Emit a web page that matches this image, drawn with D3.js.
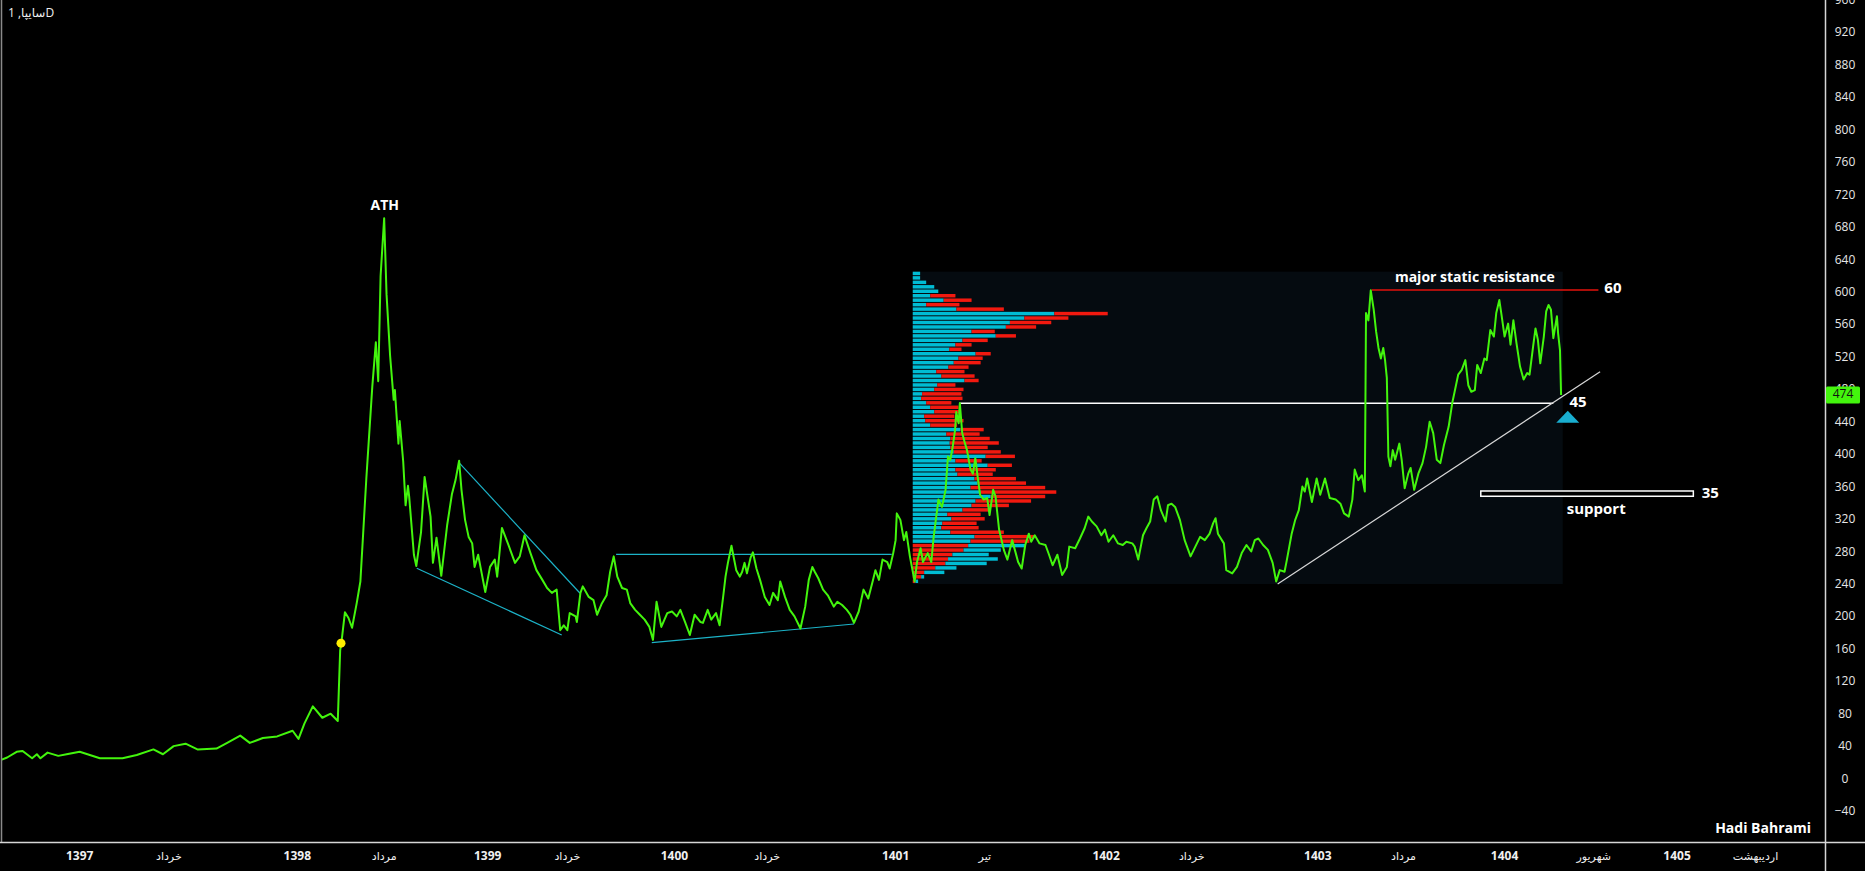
<!DOCTYPE html>
<html>
<head>
<meta charset="utf-8">
<script src="https://cdn.jsdelivr.net/npm/d3@7"></script>
<style>
html, body { margin: 0; background: #000; overflow: hidden; }
svg { display: block; }
text { font-family: "Open Sans", Roboto, "DejaVu Sans", sans-serif; }
</style>
</head>
<body>
<svg id="main"></svg>
<script>
// daily close, [bar index, price]
var priceSeries = [[1,24],[6,27],[14,34],[19,35],[27,26],[31,31],[34,26],[40,33],[49,29],[56,31],[67,34],[84,26],[103,26],[115,30],[129,37],[137,31],[146,41],[156,44],[166,37],[182,38],[191,45],[202,54],[210,45],[221,51],[233,53],[246,60],[251,50],[256,69],[263,90],[271,76],[278,81],[284,72],[286,159],[287,168],[290,206],[293,199],[296,187],[300,218],[303,244],[308,371],[313,484],[316,539],[318,491],[320,621],[323,692],[325,598],[328,522],[331,468],[332,480],[335,414],[336,442],[339,392],[341,338],[343,362],[344,349],[348,277],[350,263],[354,305],[357,373],[362,324],[364,267],[367,298],[371,251],[376,314],[380,352],[383,369],[386,393],[388,357],[391,320],[394,299],[397,291],[399,262],[402,277],[405,254],[408,231],[412,262],[416,271],[418,250],[422,310],[427,291],[433,267],[437,275],[441,301],[446,279],[451,258],[456,246],[460,236],[464,230],[468,234],[471,184],[474,190],[477,184],[479,205],[484,201],[485,194],[488,230],[490,238],[495,225],[499,221],[502,203],[506,217],[510,227],[513,256],[516,275],[519,250],[523,236],[527,234],[530,217],[534,209],[538,203],[542,197],[546,188],[549,172],[552,219],[556,188],[561,205],[565,207],[569,201],[572,209],[576,194],[580,178],[584,203],[589,194],[591,193],[595,209],[598,197],[602,205],[605,190],[608,225],[610,250],[612,267],[615,288],[617,273],[619,258],[622,250],[624,256],[626,267],[628,254],[631,273],[633,280],[636,260],[639,246],[643,225],[647,215],[650,230],[654,221],[656,244],[660,225],[664,209],[668,201],[673,186],[677,213],[680,246],[683,262],[685,256],[688,248],[692,234],[696,227],[701,213],[704,219],[708,215],[712,209],[715,203],[718,193],[722,207],[726,234],[730,223],[734,246],[736,258],[739,246],[742,271],[746,268],[748,260],[751,279],[753,295],[754,328],[757,320],[760,295],[762,305],[765,275],[769,244],[771,268],[774,285],[776,268],[780,279],[783,268],[785,299],[789,345],[792,336],[795,357],[797,398],[799,394],[801,410],[803,431],[804,453],[806,439],[807,464],[809,427],[811,416],[813,406],[816,382],[818,377],[820,396],[822,373],[824,351],[827,345],[830,347],[832,326],[835,357],[837,349],[840,308],[844,283],[847,271],[851,295],[854,279],[856,268],[859,260],[862,289],[865,303],[867,293],[870,301],[874,291],[879,289],[882,277],[885,264],[889,277],[893,252],[897,262],[899,287],[904,285],[908,297],[912,310],[915,324],[918,318],[922,312],[926,301],[929,308],[932,293],[936,301],[940,291],[944,289],[947,293],[952,291],[954,287],[957,271],[961,301],[964,310],[967,318],[970,345],[973,349],[976,332],[980,318],[982,338],[985,340],[988,336],[992,320],[996,295],[1001,275],[1005,287],[1009,299],[1013,295],[1017,303],[1020,316],[1022,322],[1024,303],[1029,291],[1031,258],[1036,254],[1040,262],[1044,279],[1048,289],[1052,281],[1055,295],[1058,297],[1062,289],[1066,283],[1070,267],[1073,244],[1076,258],[1080,256],[1082,271],[1086,303],[1089,320],[1092,332],[1095,361],[1097,355],[1099,371],[1103,342],[1107,371],[1110,351],[1114,371],[1118,347],[1123,345],[1127,340],[1130,328],[1134,324],[1137,345],[1139,382],[1142,369],[1145,375],[1147.5,355],[1148.5,575],[1150.5,566],[1152.5,603],[1155,579],[1157,552],[1159,532],[1161,519],[1163,532],[1164.5,517],[1166,495],[1167.3,398],[1169,386],[1171,406],[1173,394],[1176.5,414],[1178.5,394],[1181,359],[1184,377],[1186,384],[1189,357],[1192.5,377],[1196,390],[1199,410],[1202,441],[1205,427],[1208,394],[1211,390],[1214,412],[1218,435],[1221,464],[1223,478],[1226,499],[1229,505],[1232,517],[1234.5,486],[1237,478],[1240,480],[1242,511],[1245,501],[1248,519],[1250,517],[1253,554],[1256,546],[1258,575],[1260.6,591],[1262.6,571],[1265,546],[1268,562],[1270,536],[1272.4,566],[1275,538],[1278,509],[1281,493],[1284,501],[1286,499],[1289,534],[1291,556],[1293,542],[1295,513],[1298,546],[1300,577],[1302,585],[1304,579],[1306,544],[1309,571],[1310,550],[1311.6,529],[1312.5,474]];

// volume profile rows, top to bottom (up = blue, down = red)
var vpUp = [22,22,40,64,76,52,92,40,130,421,332,289,277,175,247,148,127,109,187,136,122,106,70,85,154,73,64,28,25,40,52,64,34,37,52,142,100,112,110,112,122,217,127,223,127,133,184,193,172,202,232,187,175,148,103,115,88,85,112,184,172,169,111,108,148,123,63,60,9,8];
var vpDown = [0,0,0,0,0,75,83,99,141,159,131,123,90,69,60,75,48,36,45,72,80,60,84,99,42,54,87,117,123,75,84,78,90,114,80,69,99,117,146,111,140,87,78,72,120,105,123,144,222,225,162,165,111,84,99,99,102,111,159,178,175,165,151,118,105,97,67,34,25,8];
var vpDownFirstFrom = 61;
var vpBars = [767.4, 1313.9];
var vpPrice = [240.9, 626];

var priceTicks = [-40,0,40,80,120,160,200,240,280,320,360,400,440,480,520,560,600,640,680,720,760,800,840,880,920,960];
var timeTickBars = [67,142,250,323,410,477,567,645,753,828,930,1002,1108,1180,1265,1340,1410,1476];
var timeTickLabels = ["1397","خرداد","1398","مرداد","1399","خرداد","1400","خرداد","1401","تیر","1402","خرداد","1403","مرداد","1404","شهریور","1405","اردیبهشت"];

// drawn lines: [bar1, price1, bar2, price2]
var cyanLines = [[385.9,390.5,487.7,229.5],[350.4,260.3,472.3,178],[518,277.5,749.7,277.5],[548,168.6,718,191.6]];
var levelLine = [807.2,463.7,1306,463.7];
var trendLine = [1074.2,240.9,1345.3,502.7];
var resistLine = [1153.3,603.4,1343.9,603.4];
var supportBox = [1245,349.1,1423.7,355.6];
var markerDot = [286.7,168];
var markerTri = [1318.1,439.8,454.6];
var lastPrice = 474;

var W = 1865, H = 871, plotR = 1825, plotB = 842;
var green = "#43f50d", cyan = "#1cb3c8";

var s = d3.select("#main").attr("width", W).attr("height", H);
s.append("rect").attr("width", W).attr("height", H).attr("fill", "#000");
s.append("defs").append("clipPath").attr("id", "clip")
  .append("rect").attr("width", plotR).attr("height", plotB);

var x = d3.scaleLinear().domain([0, 1534.4]).range([0, plotR]);
var y = d3.scaleLinear().domain([-77.2, 961]).range([plotB, 0]);

var g = s.append("g").attr("clip-path", "url(#clip)");

// volume profile panel
var px0 = x(vpBars[0]), px1 = x(vpBars[1]);
g.append("rect").attr("x", px0).attr("width", px1 - px0)
  .attr("y", y(vpPrice[1])).attr("height", y(vpPrice[0]) - y(vpPrice[1]))
  .attr("fill", "#050b10");

var rowH = (vpPrice[1] - vpPrice[0]) / vpUp.length;
var totals = vpUp.map(function(v, i) { return v + vpDown[i]; });
var vx = d3.scaleLinear().domain([0, d3.max(totals)]).range([0, 0.3 * (px1 - px0)]);
var rows = g.append("g");
vpUp.forEach(function(u, i) {
  var top = vpPrice[1] - i * rowH;
  var yy = y(top), hh = y(top - rowH) - y(top) - 1;
  var segs = i >= vpDownFirstFrom ? [[vpDown[i], "#f2190f"], [u, "#00bcd4"]] : [[u, "#00bcd4"], [vpDown[i], "#f2190f"]];
  var acc = 0;
  segs.forEach(function(sg) {
    if (sg[0] <= 0) return;
    rows.append("rect").attr("x", px0 + vx(acc)).attr("y", yy)
      .attr("width", vx(sg[0])).attr("height", hh).attr("fill", sg[1]);
    acc += sg[0];
  });
});

function seg(d, col, w) {
  g.append("line").attr("x1", x(d[0])).attr("y1", y(d[1]))
    .attr("x2", x(d[2])).attr("y2", y(d[3]))
    .attr("stroke", col).attr("stroke-width", w);
}
cyanLines.forEach(function(d) { seg(d, cyan, 1.2); });
seg(levelLine, "#ffffff", 1.5);
seg(trendLine, "#d8d8d8", 1.2);
seg(resistLine, "#e3120b", 1.5);

// support box
g.append("rect").attr("x", x(supportBox[0])).attr("y", y(supportBox[3]))
  .attr("width", x(supportBox[2]) - x(supportBox[0]))
  .attr("height", y(supportBox[1]) - y(supportBox[3]))
  .attr("fill", "#000").attr("stroke", "#fff").attr("stroke-width", 1.5);

// price line
var line = d3.line().x(function(d) { return x(d[0]); }).y(function(d) { return y(d[1]); });
g.append("path").datum(priceSeries).attr("d", line)
  .attr("fill", "none").attr("stroke", green).attr("stroke-width", 2)
  .attr("stroke-linejoin", "round");

g.append("circle").attr("cx", x(markerDot[0])).attr("cy", y(markerDot[1]))
  .attr("r", 4.5).attr("fill", "#ffee00");

var tx = x(markerTri[0]), tb = y(markerTri[1]), ta = y(markerTri[2]);
g.append("path").attr("d", "M" + (tx - 11.5) + "," + tb + "L" + (tx + 11.5) + "," + tb + "L" + tx + "," + ta + "Z")
  .attr("fill", "#19aed0");

// annotations
function label(txt, bx, v, anchor, size, dy) {
  return g.append("text").attr("x", x(bx)).attr("y", y(v) + (dy || 0))
    .attr("text-anchor", anchor).attr("dominant-baseline", "middle")
    .attr("fill", "#fff").attr("font-weight", 700).attr("font-size", size).text(txt);
}
var ath = priceSeries.reduce(function(a, b) { return b[1] > a[1] ? b : a; });
label("ATH", ath[0] + 0.5, ath[1], "middle", 14, -12);
label("major static resistance", 1240, resistLine[1], "middle", 14, -12);
label("60", resistLine[2] + 5, resistLine[1], "start", 15, -1);
label("45", 1319.5, levelLine[1], "start", 15, 0);
label("35", supportBox[2] + 7, (supportBox[1] + supportBox[3]) / 2, "start", 15, 0);
label("support", 1317.3, 332.2, "start", 15, 0);

// frame
s.append("line").attr("x1", 1.5).attr("x2", 1.5).attr("y1", 0).attr("y2", plotB)
  .attr("stroke", "#8a8a8a").attr("stroke-width", 1.5);
s.append("line").attr("x1", 0).attr("x2", W).attr("y1", plotB + 0.5).attr("y2", plotB + 0.5)
  .attr("stroke", "#d6d6d6").attr("stroke-width", 1.5);
s.append("line").attr("x1", plotR + 0.5).attr("x2", plotR + 0.5).attr("y1", 0).attr("y2", H)
  .attr("stroke", "#d6d6d6").attr("stroke-width", 1.5);

// price axis
s.append("g").selectAll("text").data(priceTicks).enter().append("text")
  .attr("x", 1845).attr("y", function(d) { return y(d); })
  .attr("text-anchor", "middle").attr("dominant-baseline", "middle")
  .attr("fill", "#e6e6e6").attr("font-size", 12)
  .text(function(d) { return d < 0 ? "\u2212" + (-d) : d; });

s.append("rect").attr("x", plotR + 1).attr("y", y(lastPrice) - 8.5)
  .attr("width", 34).attr("height", 17).attr("rx", 1.5).attr("fill", green);
s.append("text").attr("x", 1843).attr("y", y(lastPrice))
  .attr("text-anchor", "middle").attr("dominant-baseline", "middle")
  .attr("fill", "#111").attr("font-size", 12).text(lastPrice);

// time axis
s.append("g").selectAll("text").data(timeTickBars).enter().append("text")
  .attr("x", function(d) { return x(d); }).attr("y", 857)
  .attr("text-anchor", "middle").attr("dominant-baseline", "middle")
  .attr("fill", "#f0f0f0")
  .attr("font-size", function(d, i) { return i % 2 ? 11 : 12; })
  .attr("font-weight", function(d, i) { return i % 2 ? 400 : 700; })
  .text(function(d, i) { return timeTickLabels[i]; });

// title + signature
s.append("text").attr("x", 8).attr("y", 14).attr("dominant-baseline", "middle")
  .attr("fill", "#f0f0f0").attr("font-size", 12).attr("direction", "ltr")
  .text("1 ,سایپاD");
s.append("text").attr("x", 1811).attr("y", 829).attr("text-anchor", "end")
  .attr("dominant-baseline", "middle").attr("fill", "#fff")
  .attr("font-weight", 700).attr("font-size", 14).text("Hadi Bahrami");
</script>
</body>
</html>
